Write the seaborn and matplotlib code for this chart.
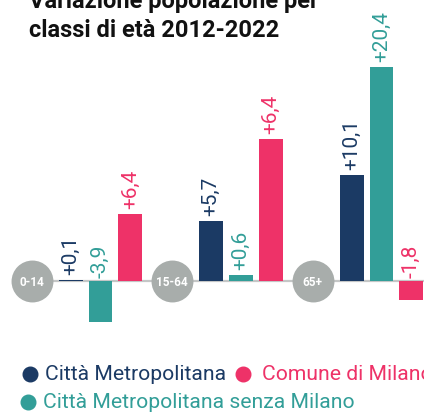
import matplotlib
matplotlib.use("Agg")
import matplotlib.pyplot as plt
import seaborn as sns
import pandas as pd

# ---- data ----
groups = ["0-14", "15-64", "65+"]
series = ["Città Metropolitana", "Città Metropolitana senza Milano", "Comune di Milano"]
cm_values = [0.1, 5.7, 10.1]
cmsm_values = [-3.9, 0.6, 20.4]
milano_values = [6.4, 13.5, -1.8]          # bar heights as drawn
cm_labels = ["+0,1", "+5,7", "+10,1"]
cmsm_labels = ["-3,9", "+0,6", "+20,4"]
milano_labels = ["+6,4", "+6,4", "-1,8"]   # labels as printed
title_lines = ["Variazione popolazione per", "classi di età 2012-2022"]

colors = {"Città Metropolitana": "#1b3a64",
          "Città Metropolitana senza Milano": "#329e98",
          "Comune di Milano": "#ee3268"}

rows = []
for s, vals in zip(series, [cm_values, cmsm_values, milano_values]):
    for g, v in zip(groups, vals):
        rows.append({"group": g, "series": s, "value": v})
df = pd.DataFrame(rows)

W, H = 424, 414
fig = plt.figure(figsize=(W / 100, H / 100), dpi=100)
ax = fig.add_axes([0, 0, 1, 1])

sns.barplot(data=df, x="group", y="value", hue="series", order=groups,
            hue_order=series, palette=colors, width=0.64, gap=0.2,
            errorbar=None, legend=False, saturation=1, ax=ax, zorder=3)

px_per_x = 140.5
x0_px = 100.5
ax.set_xlim(-x0_px / px_per_x, (W - x0_px) / px_per_x)
px_per_y = 10.5
base_px = 282
ax.set_ylim(-(H - base_px) / px_per_y, base_px / px_per_y)
ax.axis("off")

FONT = "Roboto"

# baseline
ax.plot([-0.49, 2.4], [0, 0], color="#c4c6c6", lw=1.6, zorder=1, solid_capstyle="butt")

# grey circles with group labels
for i, g in enumerate(groups):
    cx = i - 0.49
    ax.scatter([cx], [0], s=910, color="#a8adab", zorder=4, linewidths=0)
    ax.text(cx, 0, g, color="white", fontsize=8.5, fontweight="bold",
            family=FONT, ha="center", va="center", zorder=5)

# value labels
all_labels = [cm_labels, cmsm_labels, milano_labels]
all_vals = [cm_values, cmsm_values, milano_values]
for cont, labs, vals, s in zip(ax.containers, all_labels, all_vals, series):
    for bar, lab, v in zip(cont, labs, vals):
        xc = bar.get_x() + bar.get_width() / 2
        if v >= 0:
            y = v + 6 / px_per_y
        else:
            y = 4 / px_per_y
        ax.text(xc, y, lab, rotation=90, ha="center", va="bottom",
                color=colors[s], fontsize=15, family=FONT, zorder=6)

# title
fig.text(29 / W, 1 - 8 / H, title_lines[0], fontsize=17, fontweight="bold",
         family=FONT, ha="left", va="baseline", color="#111111")
fig.text(29 / W, 1 - 37 / H, title_lines[1], fontsize=17, fontweight="bold",
         family=FONT, ha="left", va="baseline", color="#111111")

# legend (manual)
leg_items = [("Città Metropolitana", 30, 375, 45),
             ("Comune di Milano", 243, 375, 262),
             ("Città Metropolitana senza Milano", 28, 403, 43)]
for name, dx, dy, tx in leg_items:
    ax.plot([dx / W], [1 - dy / H], "o", markersize=10.5, color=colors[name],
            transform=fig.transFigure, clip_on=False, zorder=7)
    fig.text(tx / W, 1 - dy / H, name, color=colors[name], fontsize=15.2,
             family=FONT, ha="left", va="center")

fig.savefig("out.png", dpi=100)
